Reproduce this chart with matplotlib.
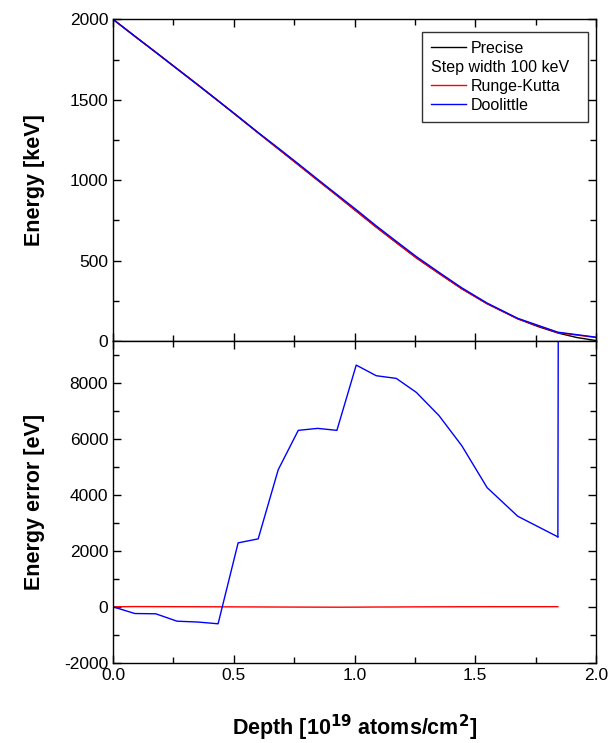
import matplotlib
matplotlib.use("Agg")
import matplotlib.pyplot as plt
from matplotlib.ticker import MultipleLocator
from matplotlib.lines import Line2D

plt.rcParams['font.family'] = ['Liberation Sans', 'DejaVu Sans']
plt.rcParams['axes.unicode_minus'] = False

# step points (100 keV steps), depth in 1e19 atoms/cm2
step_depth = [0.0, 0.09, 0.177, 0.265, 0.352, 0.435, 0.518, 0.601, 0.684, 0.767, 0.847,
              0.927, 1.007, 1.090, 1.173, 1.256, 1.350, 1.444, 1.549, 1.676, 1.842, 2.0]

# precise energy curve [keV]
precise_depth = [0.0, 0.09, 0.177, 0.265, 0.352, 0.435, 0.518, 0.601, 0.684, 0.767, 0.847,
                 0.927, 1.007, 1.090, 1.173, 1.256, 1.350, 1.444, 1.549, 1.676, 1.76,
                 1.842, 1.92, 2.0]
precise_energy = [2000, 1895, 1795, 1693, 1592, 1494, 1394, 1294, 1195, 1096, 1000,
                  905, 808, 708, 612, 517, 420, 325, 232, 138, 90,
                  50, 22, 3]

# integrated energies [keV]
rk_energy = [2000, 1895, 1795, 1693, 1592, 1494, 1394, 1294, 1195, 1096, 1000,
             905, 808, 708, 612, 517, 420, 325, 232, 138, 52, 22]
dl_energy = [2000, 1895, 1795, 1692, 1591, 1493, 1396, 1296, 1200, 1102, 1006,
             911, 817, 716, 620, 525, 427, 331, 236, 141, 55, 24]

# energy errors [eV]
err_depth = [0.0, 0.09, 0.177, 0.265, 0.352, 0.435, 0.518, 0.601, 0.684, 0.767, 0.847,
             0.927, 1.007, 1.090, 1.173, 1.256, 1.350, 1.444, 1.549, 1.676, 1.842]
rk_err = [0, 8, 6, 4, 2, 0, -3, -5, -8, -10, -12,
          -14, -12, -8, -6, -2, 0, 2, 3, 4, 4]
dl_err = [0, -240, -250, -514, -545, -607, 2286, 2428, 4900, 6307, 6378,
          6307, 8640, 8260, 8164, 7664, 6832, 5760, 4260, 3236, 2500]
dl_jump_depth = [1.842, 1.850]
dl_jump_err = [2500, 40000]

fig = plt.figure(figsize=(6.11, 7.43), dpi=100)
ax1 = fig.add_axes([0.185, 0.541, 0.7905, 0.433])
ax2 = fig.add_axes([0.185, 0.108, 0.7905, 0.433], sharex=ax1)

ax1.plot(precise_depth, precise_energy, color='black', lw=1)
ax1.plot(step_depth, rk_energy, color='red', lw=1)
ax1.plot(step_depth, dl_energy, color='blue', lw=1)
ax1.set_ylim(0, 2000)
ax1.set_xlim(0, 2.0)
ax1.yaxis.set_major_locator(MultipleLocator(500))
ax1.yaxis.set_minor_locator(MultipleLocator(250))
ax1.set_ylabel('Energy [keV]', fontsize=15.5, fontweight='bold')
ax1.tick_params(labelbottom=False)

# legend: the "Step width" row has no handle, its text is placed by hand below
leg_fs = 11.5
handles = [Line2D([], [], color='black', lw=1),
           Line2D([], [], color='none'),
           Line2D([], [], color='red', lw=1),
           Line2D([], [], color='blue', lw=1)]
labels = ['Precise', ' ', 'Runge-Kutta', 'Doolittle']
leg = ax1.legend(handles, labels, loc='upper left', fontsize=leg_fs, frameon=True,
                 fancybox=False, edgecolor='black', handlelength=2.2,
                 handletextpad=0.3, borderpad=0.55, labelspacing=0.25,
                 bbox_to_anchor=(0.640, 0.0, 0.344, 0.96), mode='expand',
                 borderaxespad=0)
leg.get_frame().set_linewidth(1)

ax2.plot(err_depth, rk_err, color='red', lw=1)
ax2.plot(err_depth, dl_err, color='blue', lw=1)
ax2.plot(dl_jump_depth, dl_jump_err, color='blue', lw=1)
ax2.set_ylim(-2000, 9500)
ax2.yaxis.set_major_locator(MultipleLocator(2000))
ax2.yaxis.set_minor_locator(MultipleLocator(1000))
ax2.xaxis.set_major_locator(MultipleLocator(0.5))
ax2.xaxis.set_minor_locator(MultipleLocator(0.25))
ax2.xaxis.set_major_formatter(plt.FormatStrFormatter('%.1f'))
ax2.set_ylabel('Energy error [eV]', fontsize=15.5, fontweight='bold')
ax2.set_xlabel(r'Depth [10$^{\mathbf{19}}$ atoms/cm$^{\mathbf{2}}$]', fontsize=15.5,
               fontweight='bold', labelpad=22)

for ax in (ax1, ax2):
    ax.tick_params(which='both', direction='in', top=True, right=True, labelsize=12.5,
                   width=1)
    ax.tick_params(which='major', length=6)
    ax.tick_params(which='minor', length=4)
    for s in ax.spines.values():
        s.set_linewidth(1)
    ax.yaxis.set_label_coords(-0.14, 0.5)

# put the "Step width 100 keV" line where the legend keeps the blank row
fig.canvas.draw()
rend = fig.canvas.get_renderer()
x0 = leg.legend_handles[0].get_window_extent(rend).x0
row = leg.texts[1].get_window_extent(rend)
yc = 0.5 * (row.y0 + row.y1)
fig.text(x0 / fig.bbox.width, yc / fig.bbox.height, 'Step width 100 keV',
         fontsize=leg_fs, ha='left', va='center')

fig.savefig('out.png', dpi=100)
